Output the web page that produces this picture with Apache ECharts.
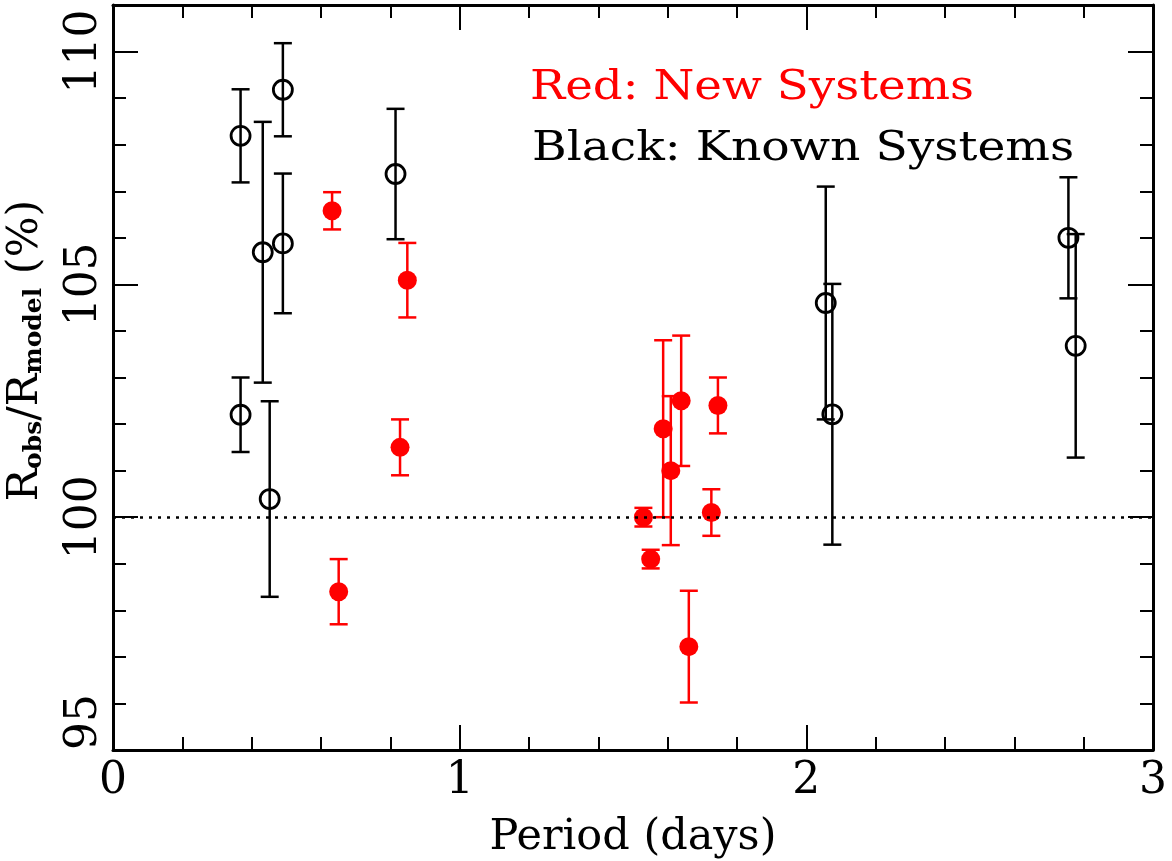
<!DOCTYPE html>
<html>
<head>
<meta charset="utf-8">
<script src="https://cdn.jsdelivr.net/npm/echarts@6/dist/echarts.min.js"></script>
<style>
  html, body { margin: 0; padding: 0; background: #fff; }
  #chart { width: 1172px; height: 861px; }
</style>
</head>
<body>
<div id="chart"></div>
<script>
// red: new systems
const newPeriod = [0.632, 0.651, 0.828, 0.849, 1.530, 1.551, 1.587, 1.609, 1.639, 1.661, 1.726, 1.745]
const newRatio = [106.58, 98.40, 101.50, 105.09, 100.00, 99.10, 101.90, 101.00, 102.50, 97.22, 100.10, 102.40]
const newErr = [0.4, 0.7, 0.6, 0.8, 0.2, 0.2, 1.9, 1.6, 1.4, 1.2, 0.5, 0.6]

// black: known systems
const knownPeriod = [0.368, 0.368, 0.432, 0.452, 0.490, 0.490, 0.815, 2.056, 2.075, 2.756, 2.777]
const knownRatio = [108.19, 102.20, 105.69, 100.39, 109.18, 105.88, 107.37, 104.60, 102.21, 106.00, 103.68]
const knownErr = [1.0, 0.8, 2.8, 2.1, 1.0, 1.5, 1.4, 2.5, 2.8, 1.3, 2.4]

const refLevel = 100
const xRange = [0, 3]
const yRange = [95, 111]

const FONT = '"DejaVu Serif", "Liberation Serif", serif'

const chart = echarts.init(document.getElementById('chart'))

const errorBar = (color) => (params, api) => {
  const x = api.value(0)
  const y = api.value(1)
  const e = api.value(2)
  const hi = api.coord([x, y + e])
  const lo = api.coord([x, y - e])
  const cap = 9
  const style = { stroke: color, lineWidth: 2.5 }
  return {
    type: 'group',
    children: [
      { type: 'line', shape: { x1: hi[0], y1: hi[1], x2: lo[0], y2: lo[1] }, style },
      { type: 'line', shape: { x1: hi[0] - cap, y1: hi[1], x2: hi[0] + cap, y2: hi[1] }, style },
      { type: 'line', shape: { x1: lo[0] - cap, y1: lo[1], x2: lo[0] + cap, y2: lo[1] }, style },
    ],
  }
}

const axisBase = {
  type: 'value',
  axisLine: { show: true, onZero: false, lineStyle: { color: '#000', width: 3 } },
  axisTick: { show: true, inside: true, length: 25, lineStyle: { color: '#000', width: 2 } },
  minorTick: { show: true, splitNumber: 5, length: 13, lineStyle: { color: '#000', width: 2 } },
  splitLine: { show: false },
  minorSplitLine: { show: false },
}

const labelStyle = { color: '#000', fontFamily: FONT, fontSize: 44 }

const option = {
  animation: false,
  backgroundColor: '#fff',
  grid: { left: 113, right: 19, top: 5, bottom: 111, outerBoundsMode: 'none' },
  xAxis: [
    {
      ...axisBase,
      min: xRange[0],
      max: xRange[1],
      interval: 1,
      position: 'bottom',
      axisLabel: { ...labelStyle, margin: 10 },
      name: 'Period (days)',
      nameLocation: 'middle',
      nameGap: 66,
      nameMoveOverlap: false,
      nameTextStyle: { color: '#000', fontFamily: FONT, fontSize: 43 },
    },
    {
      ...axisBase,
      min: xRange[0],
      max: xRange[1],
      interval: 1,
      position: 'top',
      axisLabel: { show: false },
    },
  ],
  yAxis: [
    {
      ...axisBase,
      min: yRange[0],
      max: yRange[1],
      interval: 5,
      position: 'left',
      axisLabel: { ...labelStyle, rotate: 90, margin: 6, showMaxLabel: false, alignMinLabel: 'left' },
      name: '{m|R}{s|obs}{m|/R}{s|model}{m| (%)}',
      nameLocation: 'middle',
      nameRotate: 90,
      nameGap: 66,
      nameMoveOverlap: false,
      nameTextStyle: {
        color: '#000',
        fontFamily: FONT,
        fontSize: 43,
        padding: [0, 0, 0, 54],
        rich: {
          m: { fontFamily: FONT, fontSize: 43, lineHeight: 43, verticalAlign: 'top', color: '#000' },
          s: { fontFamily: FONT, fontSize: 25, fontWeight: 'bold', lineHeight: 8, verticalAlign: 'bottom', color: '#000' },
        },
      },
    },
    {
      ...axisBase,
      min: yRange[0],
      max: yRange[1],
      interval: 5,
      position: 'right',
      axisLabel: { show: false },
    },
  ],
  graphic: [
    {
      type: 'text',
      x: 530,
      y: 88,
      scaleX: 1.14,
      style: { text: 'Red: New Systems', fill: '#ff0000', font: '41px ' + FONT, align: 'left', verticalAlign: 'middle' },
    },
    {
      type: 'text',
      x: 532,
      y: 149,
      scaleX: 1.15,
      style: { text: 'Black: Known Systems', fill: '#000', font: '41px ' + FONT, align: 'left', verticalAlign: 'middle' },
    },
  ],
  series: [
    {
      name: 'known err',
      type: 'custom',
      renderItem: errorBar('#000'),
      encode: { x: 0, y: 1 },
      data: knownPeriod.map((p, i) => [p, knownRatio[i], knownErr[i]]),
      z: 2,
    },
    {
      name: 'new err',
      type: 'custom',
      renderItem: errorBar('#ff0000'),
      encode: { x: 0, y: 1 },
      data: newPeriod.map((p, i) => [p, newRatio[i], newErr[i]]),
      z: 2,
    },
    {
      name: 'Known Systems',
      type: 'scatter',
      symbol: 'circle',
      symbolSize: 19,
      itemStyle: { color: 'rgba(0,0,0,0)', borderColor: '#000', borderWidth: 2.8, opacity: 1 },
      data: knownPeriod.map((p, i) => [p, knownRatio[i]]),
      markLine: {
        silent: true,
        symbol: ['none', 'none'],
        label: { show: false },
        lineStyle: { color: '#000', width: 2.5, type: [3, 6], opacity: 1 },
        data: [{ yAxis: refLevel }],
      },
      z: 3,
    },
    {
      name: 'New Systems',
      type: 'scatter',
      symbol: 'circle',
      symbolSize: 19,
      itemStyle: { color: '#ff0000', opacity: 1 },
      data: newPeriod.map((p, i) => [p, newRatio[i]]),
      z: 4,
    },
  ],
}

chart.setOption(option)
window.addEventListener('resize', () => chart.resize())
</script>
</body>
</html>
